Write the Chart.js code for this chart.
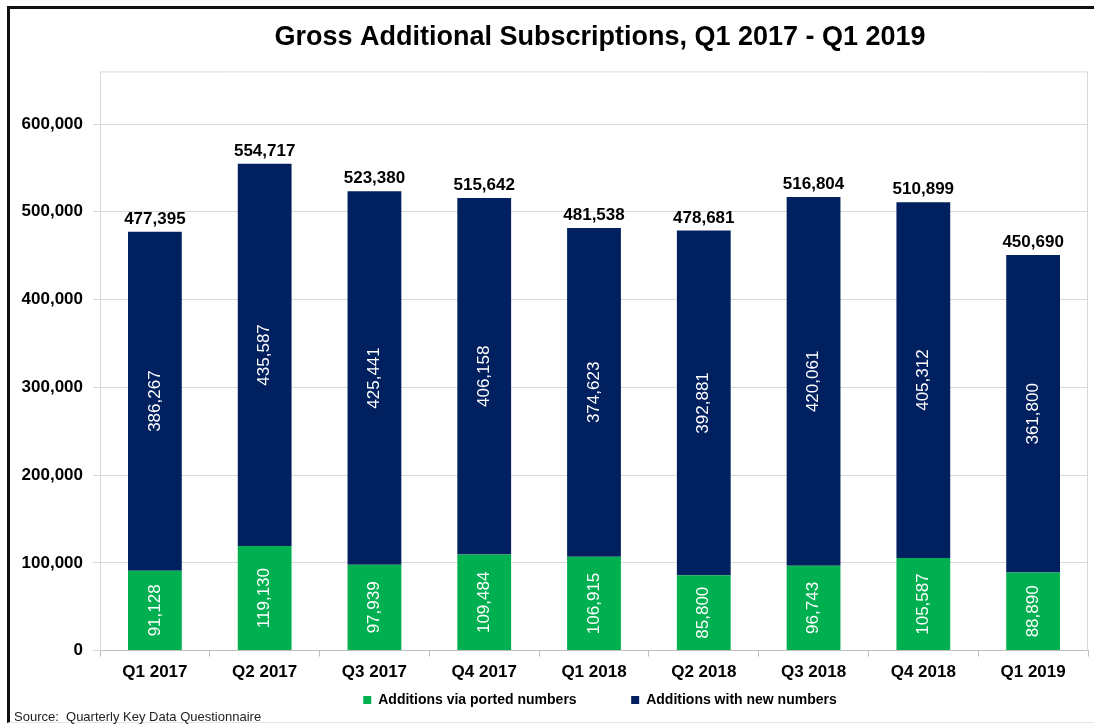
<!DOCTYPE html>
<html>
<head>
<meta charset="utf-8">
<script src="https://cdn.jsdelivr.net/npm/chart.js@4.4.1/dist/chart.umd.min.js"></script>
<style>
  html, body { margin: 0; padding: 0; background: #fff; overflow: hidden; }
  #wrap { position: relative; width: 1094px; height: 724px; overflow: hidden; }
  #frame { position: absolute; left: 7px; top: 6px; width: 1100px; height: 713px;
           border-top: 3px solid #111; border-left: 3px solid #111; border-bottom: 1px solid #e6e6e6; }
  #chart { position: absolute; left: 0; top: 0; }
  #source { position: absolute; left: 14px; top: 709px; font: 13px "Liberation Sans", Arial, sans-serif; color: #222; }
</style>
</head>
<body>
<div id="wrap">
  <div id="frame"></div>
  <canvas id="chart" width="1200" height="724"></canvas>
  <div id="source">Source:&nbsp; Quarterly Key Data Questionnaire</div>
</div>
<script>
const quarters = ['Q1 2017', 'Q2 2017', 'Q3 2017', 'Q4 2017', 'Q1 2018', 'Q2 2018', 'Q3 2018', 'Q4 2018', 'Q1 2019'];
const ported = [91128, 119130, 97939, 109484, 106915, 85800, 96743, 105587, 88890];
const newNumbers = [386267, 435587, 425441, 406158, 374623, 392881, 420061, 405312, 361800];
const yTicks = [0, 100000, 200000, 300000, 400000, 500000, 600000];

const fmt = v => v.toLocaleString('en-US');
const FONT = '"Liberation Sans", Arial, sans-serif';

// values inside the bars (rotated) and totals on top
const barLabels = {
    id: 'barLabels',
    afterDatasetsDraw(chart) {
        const ctx = chart.ctx;
        ctx.save();
        chart.data.datasets.forEach((ds, i) => {
            const meta = chart.getDatasetMeta(i);
            meta.data.forEach((bar, j) => {
                const mid = (bar.y + bar.base) / 2;
                ctx.save();
                ctx.translate(bar.x, mid);
                ctx.rotate(-Math.PI / 2);
                ctx.fillStyle = '#fff';
                ctx.font = '17px ' + FONT;
                ctx.textAlign = 'center';
                ctx.textBaseline = 'middle';
                ctx.fillText(fmt(ds.data[j]), 0, 0);
                ctx.restore();
            });
        });
        const top = chart.getDatasetMeta(1);
        top.data.forEach((bar, j) => {
            ctx.fillStyle = '#000';
            ctx.font = 'bold 17px ' + FONT;
            ctx.textAlign = 'center';
            ctx.textBaseline = 'bottom';
            ctx.fillText(fmt(ported[j] + newNumbers[j]), bar.x, bar.y - 4);
        });
        ctx.restore();
    }
};

const plotBorder = {
    id: 'plotBorder',
    beforeDatasetsDraw(chart) {
        const a = chart.chartArea, ctx = chart.ctx;
        ctx.save();
        ctx.strokeStyle = '#d9d9d9';
        ctx.lineWidth = 1;
        ctx.beginPath();
        ctx.moveTo(a.left + 0.5, a.bottom);
        ctx.lineTo(a.left + 0.5, a.top + 0.5);
        ctx.lineTo(a.right - 0.5, a.top + 0.5);
        ctx.lineTo(a.right - 0.5, a.bottom);
        ctx.stroke();
        ctx.restore();
    }
};

const ctx = document.getElementById('chart').getContext('2d');
const chart = new Chart(ctx, {
    type: 'bar',
    data: {
        labels: quarters,
        datasets: [{
            label: 'Additions via ported numbers',
            data: ported,
            backgroundColor: '#00B050',
            barPercentage: 0.49,
            categoryPercentage: 1
        }, {
            label: 'Additions with new numbers',
            data: newNumbers,
            backgroundColor: '#002060',
            barPercentage: 0.49,
            categoryPercentage: 1
        }]
    },
    options: {
        responsive: false,
        animation: false,
        layout: { padding: { left: 0, right: 0, top: 0, bottom: 7 } },
        plugins: {
            title: {
                display: true,
                text: 'Gross Additional Subscriptions, Q1 2017 - Q1 2019',
                color: '#000',
                font: { family: FONT, size: 27, weight: 'bold' },
                padding: { top: 21, bottom: 18 }
            },
            legend: {
                position: 'bottom',
                labels: {
                    color: '#000',
                    font: { family: FONT, size: 14, weight: 'bold' },
                    boxWidth: 8,
                    boxHeight: 8,
                    padding: 4,
                    // wider gap between the two entries, as in the original
                    generateLabels: c => Chart.defaults.plugins.legend.labels.generateLabels(c)
                        .map((l, i) => i === 0 ? { ...l, text: l.text + '\u00a0'.repeat(13) } : l)
                }
            },
            tooltip: { enabled: false }
        },
        scales: {
            x: {
                stacked: true,
                grid: { drawOnChartArea: false, offset: true, tickLength: 6, color: '#bfbfbf' },
                border: { color: '#bfbfbf' },
                ticks: { color: '#000', font: { family: FONT, size: 17, weight: 'bold' }, padding: 6 }
            },
            y: {
                stacked: true,
                min: 0,
                max: 660000,
                afterFit: s => { s.width = 100; },
                afterBuildTicks: s => { s.ticks = yTicks.map(v => ({ value: v })); },
                grid: { color: '#d9d9d9', tickLength: 7 },
                border: { color: '#d9d9d9' },
                ticks: {
                    color: '#000',
                    padding: 10,
                    font: { family: FONT, size: 17, weight: 'bold' },
                    callback: v => fmt(v)
                }
            },
            yR: {
                position: 'right',
                display: true,
                afterFit: s => { s.width = 112; },
                grid: { display: false },
                border: { display: false },
                ticks: { display: false }
            }
        }
    },
    plugins: [barLabels, plotBorder]
});
</script>
</body>
</html>
